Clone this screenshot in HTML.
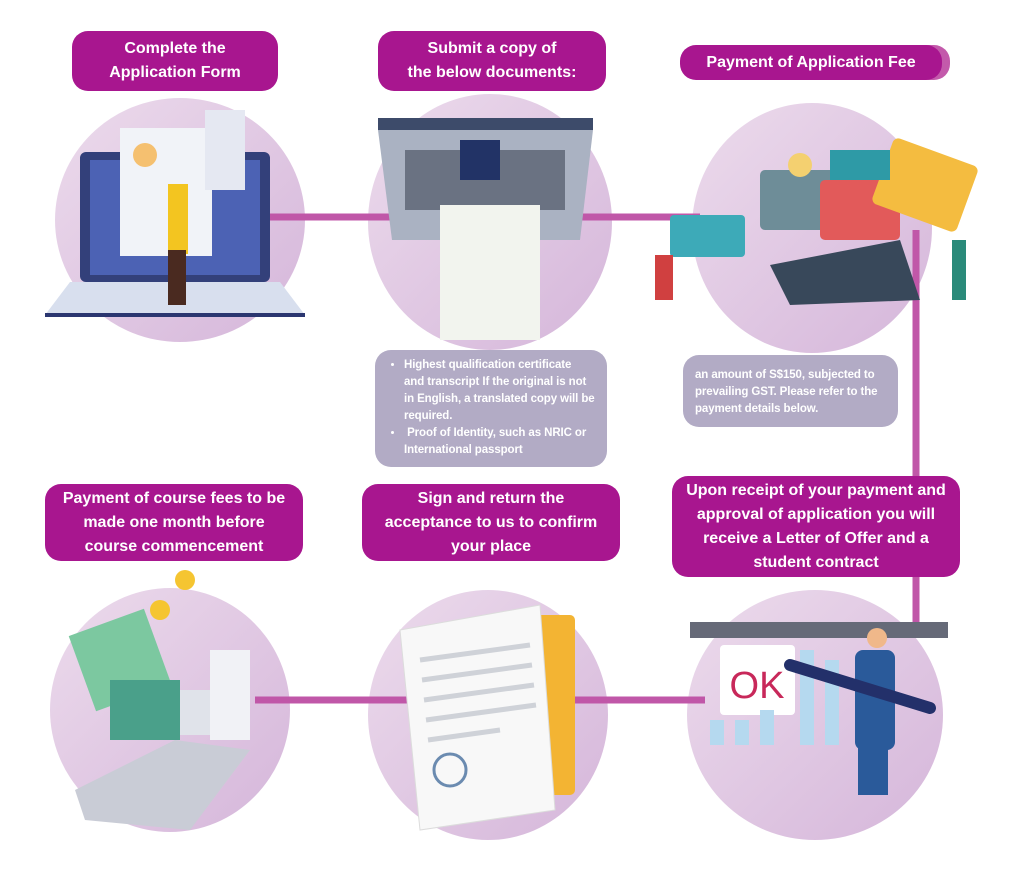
<!DOCTYPE html>
<html><head><meta charset="utf-8"><style>
body{margin:0;background:#fff;width:1024px;height:874px;overflow:hidden;position:relative;font-family:"Liberation Sans",sans-serif}
.pill{position:absolute;background:#a8168f;color:#fff;font-weight:bold;font-size:16px;line-height:24px;text-align:center;border-radius:16px;display:flex;align-items:center;justify-content:center}
.box{position:absolute;background:#b2abc5;color:#fff;font-weight:bold;font-size:11.5px;line-height:17px;border-radius:16px;white-space:nowrap;letter-spacing:-0.1px}
svg{position:absolute;left:0;top:0}
</style></head><body>
<svg width="1024" height="874">
<defs><linearGradient id="g" x1="0" y1="0" x2="1" y2="1"><stop offset="0" stop-color="#ecdbec"/><stop offset="1" stop-color="#d5b6da"/></linearGradient></defs>
<g fill="url(#g)">
<ellipse cx="180" cy="220" rx="125" ry="122"/>
<ellipse cx="490" cy="222" rx="122" ry="128"/>
<ellipse cx="812" cy="228" rx="120" ry="125"/>
<ellipse cx="170" cy="710" rx="120" ry="122"/>
<ellipse cx="488" cy="715" rx="120" ry="125"/>
<ellipse cx="815" cy="715" rx="128" ry="125"/>
</g>
<g stroke="#c057a8" stroke-width="7" fill="none">
<line x1="270" y1="217" x2="700" y2="217"/>
<line x1="916" y1="230" x2="916" y2="625"/>
<line x1="255" y1="700" x2="705" y2="700"/>
</g>
<rect x="80" y="152" width="190" height="130" rx="6" fill="#33407a"/>
<rect x="90" y="160" width="170" height="115" fill="#4c62b4"/>
<polygon points="45,315 305,315 280,282 70,282" fill="#d8dfee"/>
<rect x="45" y="313" width="260" height="4" fill="#2b3670"/>
<rect x="120" y="128" width="92" height="128" fill="#f1f3f8"/>
<rect x="205" y="110" width="40" height="80" fill="#e5e8f2"/>
<circle cx="145" cy="155" r="12" fill="#f5c070"/>
<rect x="168" y="184" width="20" height="70" fill="#f3c520"/>
<rect x="168" y="250" width="18" height="55" fill="#4a2a20"/>
<rect x="378" y="118" width="215" height="12" fill="#3d4b6a"/>
<polygon points="378,130 593,130 580,240 392,240" fill="#aab2c2"/>
<rect x="405" y="150" width="160" height="60" fill="#6a7282"/>
<rect x="440" y="205" width="100" height="135" fill="#f2f4ee"/>
<rect x="460" y="140" width="40" height="40" fill="#223366"/>
<rect x="760" y="170" width="80" height="60" rx="5" fill="#6e8d98"/>
<rect x="820" y="180" width="80" height="60" rx="5" fill="#e25a5a"/>
<rect x="880" y="150" width="90" height="70" rx="6" fill="#f4bc40" transform="rotate(20 925 185)"/>
<rect x="830" y="150" width="60" height="30" fill="#2e9aa6"/>
<circle cx="800" cy="165" r="12" fill="#f4d070"/>
<rect x="670" y="215" width="75" height="42" rx="4" fill="#3daab8"/>
<path d="M770 265 L900 240 L920 300 L790 305 Z" fill="#38485a"/>
<rect x="655" y="255" width="18" height="45" fill="#d04040"/>
<rect x="952" y="240" width="14" height="60" fill="#2a8a7a"/>
<polygon points="75,790 175,740 250,750 190,830 85,820" fill="#c9ccd6"/>
<rect x="130" y="690" width="90" height="45" rx="6" fill="#e0e3ea"/>
<rect x="80" y="620" width="80" height="80" fill="#7cc8a0" transform="rotate(-20 120 660)"/>
<rect x="110" y="680" width="70" height="60" fill="#4aa08a"/>
<rect x="210" y="650" width="40" height="90" fill="#f1f2f6"/>
<circle cx="185" cy="580" r="10" fill="#f5c531"/>
<circle cx="160" cy="610" r="10" fill="#f5c531"/>
<rect x="520" y="615" width="55" height="180" rx="5" fill="#f3b433"/>
<polygon points="400,630 540,605 555,810 420,830" fill="#f8f8f8" stroke="#dcdcdc"/>
<g stroke="#cfd2d8" stroke-width="5"><line x1="420" y1="660" x2="530" y2="645"/><line x1="422" y1="680" x2="532" y2="665"/><line x1="424" y1="700" x2="534" y2="685"/><line x1="426" y1="720" x2="536" y2="705"/><line x1="428" y1="740" x2="500" y2="730"/></g>
<circle cx="450" cy="770" r="16" fill="none" stroke="#6b8bb0" stroke-width="3"/>
<rect x="690" y="622" width="258" height="16" fill="#666a78"/>
<rect x="720" y="645" width="75" height="70" rx="4" fill="#fff"/>
<text x="757" y="698" font-family="Liberation Sans" font-size="38" fill="#c8285a" text-anchor="middle">OK</text>
<g fill="#b5d9ef"><rect x="710" y="720" width="14" height="25"/><rect x="735" y="720" width="14" height="25"/><rect x="760" y="710" width="14" height="35"/><rect x="800" y="650" width="14" height="95"/><rect x="825" y="660" width="14" height="85"/></g>
<rect x="855" y="650" width="40" height="100" rx="8" fill="#2a5a9a"/>
<rect x="858" y="745" width="30" height="50" fill="#2a5a9a"/>
<circle cx="877" cy="638" r="10" fill="#f0b88a"/>
<line x1="790" y1="665" x2="930" y2="708" stroke="#23306a" stroke-width="12" stroke-linecap="round"/>
</svg>
<div class="pill" style="left:72px;top:31px;width:206px;height:60px">Complete the<br>Application Form</div>
<div class="pill" style="left:378px;top:31px;width:228px;height:60px">Submit a copy of<br>the below documents:</div>
<div class="pill" style="left:690px;top:45px;width:260px;height:35px;background:#c35aab"></div>
<div class="pill" style="left:680px;top:45px;width:262px;height:35px">Payment of Application Fee</div>
<div class="pill" style="left:45px;top:484px;width:258px;height:77px">Payment of course fees to be<br>made one month before<br>course commencement</div>
<div class="pill" style="left:362px;top:484px;width:258px;height:77px">Sign and return the<br>acceptance to us to confirm<br>your place</div>
<div class="pill" style="left:672px;top:476px;width:288px;height:101px">Upon receipt of your payment and<br>approval of application you will<br>receive a Letter of Offer and a<br>student contract</div>
<div class="box" style="left:375px;top:350px;width:232px;height:117px">
<ul style="margin:0;padding:7px 0 0 29px">
<li>Highest qualification certificate<br>and transcript If the original is not<br>in English, a translated copy will be<br>required.</li>
<li>&nbsp;Proof of Identity, such as NRIC or<br>International passport</li></ul></div>
<div class="box" style="left:683px;top:355px;width:215px;height:72px"><div style="padding:12px 0 0 12px">an amount of S$150, subjected to<br>prevailing GST. Please refer to the<br>payment details below.</div></div>
</body></html>
